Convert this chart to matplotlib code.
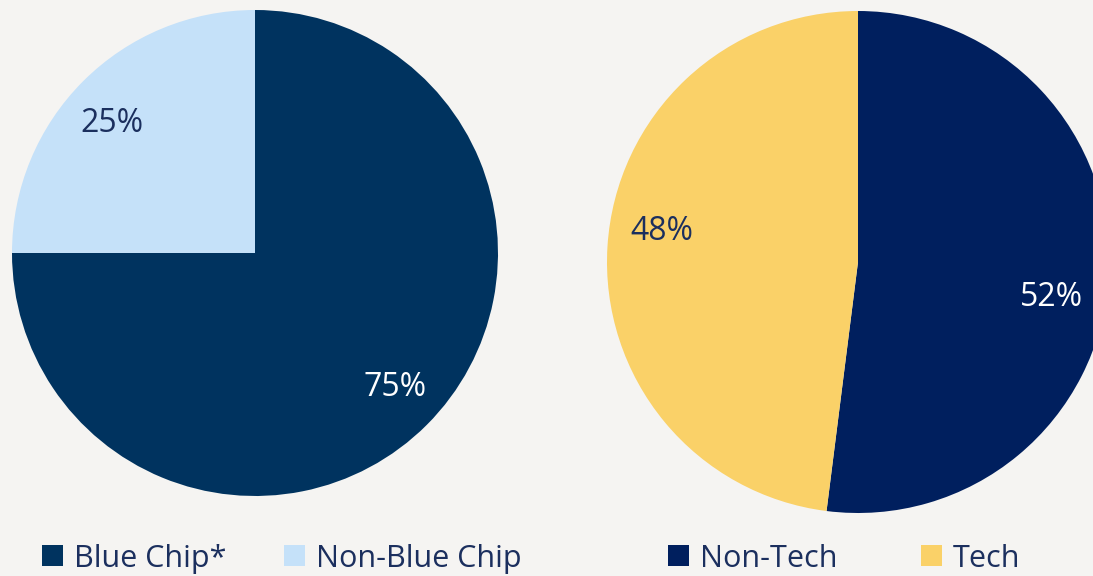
import matplotlib.pyplot as plt
from matplotlib.patches import Patch

plt.rcParams['font.family'] = ['Open Sans', 'DejaVu Sans']

# data
chip_labels = ['Blue Chip*', 'Non-Blue Chip']
chip_values = [75, 25]
chip_colors = ['#00335f', '#c5e1f9']
chip_pct_colors = ['white', '#1b2f5e']

tech_labels = ['Non-Tech', 'Tech']
tech_values = [52, 48]
tech_colors = ['#001f5e', '#fad168']
tech_pct_colors = ['white', '#1b2f5e']

bg = '#f5f4f2'
navy = '#1b2f5e'

W, H = 1093, 576
fig = plt.figure(figsize=(W / 100, H / 100), dpi=100, facecolor=bg)
ax = fig.add_axes([0, 0, 1, 1])
ax.set_facecolor(bg)


def draw_pie(values, colors, pct_colors, center, radius):
    wedges, _, autotexts = ax.pie(values, colors=colors, startangle=90, counterclock=False,
                                  center=center, radius=radius, autopct='%d%%',
                                  pctdistance=0.79, textprops={'fontsize': 23},
                                  wedgeprops={'linewidth': 0})
    for t, c in zip(autotexts, pct_colors):
        t.set_color(c)
    return autotexts


t1 = draw_pie(chip_values, chip_colors, chip_pct_colors, (255, H - 253), 243)
t2 = draw_pie(tech_values, tech_colors, tech_pct_colors, (858, H - 262), 251)

# excel puts the labels a bit off the wedge middle
t1[0].set_position((395, H - 387))
t1[1].set_position((112, H - 124))
t2[0].set_position((1052, H - 297))
t2[1].set_position((662, H - 232))

ax.set_xlim(0, W)
ax.set_ylim(0, H)
ax.set_aspect('equal')
ax.axis('off')

leg_kw = dict(ncol=2, frameon=False, fontsize=22, labelcolor=navy, handlelength=0.68,
              handleheight=0.68, handletextpad=0.36, borderaxespad=0, borderpad=0,
              loc='lower left')

h1 = [Patch(facecolor=c, label=l) for c, l in zip(chip_colors, chip_labels)]
l1 = ax.legend(handles=h1, bbox_to_anchor=(42 / W, 0.004), columnspacing=1.9, **leg_kw)
ax.add_artist(l1)

h2 = [Patch(facecolor=c, label=l) for c, l in zip(tech_colors, tech_labels)]
ax.legend(handles=h2, bbox_to_anchor=(668 / W, 0.004), columnspacing=2.75, **leg_kw)

fig.savefig('out.png', dpi=100, facecolor=bg)
